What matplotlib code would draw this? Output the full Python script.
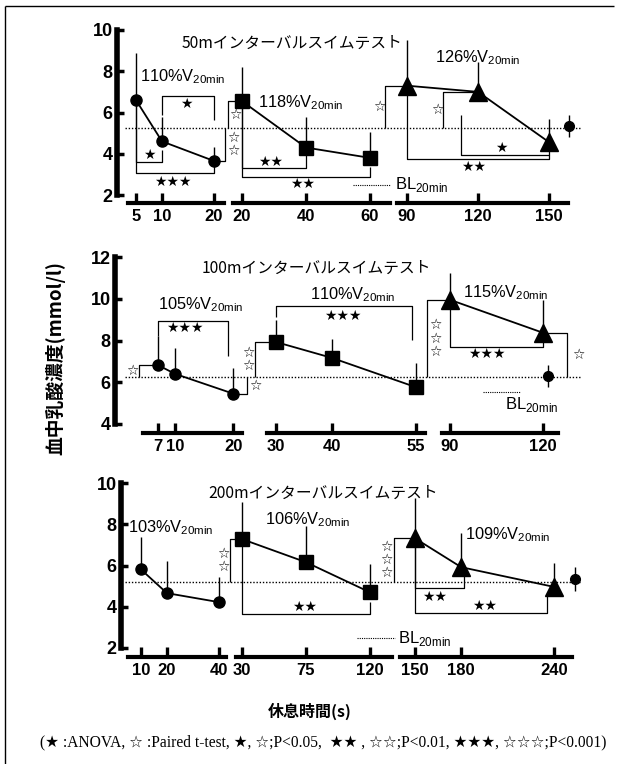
import matplotlib
matplotlib.use('Agg')
import matplotlib.pyplot as plt
from matplotlib.lines import Line2D
from matplotlib.transforms import offset_copy, blended_transform_factory

plt.rcParams['font.family'] = ['Liberation Sans', 'Noto Sans CJK JP', 'DejaVu Sans']
plt.rcParams['mathtext.fontset'] = 'custom'
plt.rcParams['mathtext.rm'] = 'Liberation Sans'
plt.rcParams['lines.solid_capstyle'] = 'butt'

W, H = 617, 764

# rest interval (s), blood lactate mean and top of the SD bar, per group of repeats
rest_50 = [[5, 10, 20], [20, 40, 60], [90, 120, 150]]
lac_50 = [[6.6, 4.6, 3.65], [6.55, 4.3, 3.8], [7.3, 7.0, 4.56]]
sdtop_50 = [[8.9, 5.8, 4.35], [8.2, 5.8, 5.05], [9.5, 8.45, 5.7]]
speed_50 = ['110', '118', '126']
bl_50 = 5.24
blpt_50 = (5.35, 0.55)

rest_100 = [[7, 10, 20], [30, 40, 55], [90, 120]]
lac_100 = [[6.83, 6.4, 5.45], [7.93, 7.17, 5.77], [9.95, 8.37]]
sdtop_100 = [[8.2, 7.65, 6.7], [8.98, 8.08, 6.9], [11.25, 9.95]]
speed_100 = ['105', '110', '115']
bl_100 = 6.23
blpt_100 = (6.3, 0.55)

rest_200 = [[10, 20, 40], [30, 75, 120], [150, 180, 240]]
lac_200 = [[5.82, 4.66, 4.22], [7.28, 6.16, 4.7], [7.33, 5.92, 4.96]]
sdtop_200 = [[7.38, 6.2, 5.45], [9.1, 7.9, 6.07], [9.27, 7.6, 6.1]]
speed_200 = ['103', '106', '109']
bl_200 = 5.2
blpt_200 = (5.33, 0.58)

# ANOVA brackets: group, x1, x2, bar y, left end y, right end y, stars, star x, star y
anova_50 = [(0, 10, 20, 6.8, 5.9, 5.64, 1, 14.6, 6.42),
            (0, 5, 10, 3.6, 6.6, 4.18, 1, 7.5, 3.94),
            (0, 5, 20, 3.07, 6.6, 3.65, 3, 12.1, 2.63),
            (1, 20, 40, 3.31, 6.55, 4.0, 2, 29, 3.6),
            (1, 20, 60, 2.87, 6.55, 3.36, 2, 39, 2.53),
            (2, 113, 150, 3.93, 5.88, 4.8, 1, 129.7, 4.27),
            (2, 90, 150, 3.74, 6.85, 3.93, 2, 118, 3.36)]
anova_100 = [(0, 7, 19.07, 8.95, 8.2, 7.26, 3, 11.7, 8.6),
             (1, 30, 54.4, 9.65, 9.13, 8.02, 3, 42, 9.17),
             (2, 90, 120, 7.69, 9.95, 8.37, 3, 102, 7.35)]
anova_200 = [(1, 30, 120, 3.65, 7.28, 4.23, 2, 74.3, 4.0),
             (2, 150, 181.8, 4.9, 7.33, 5.54, 2, 163, 4.47),
             (2, 150, 235.4, 3.7, 7.33, 4.57, 2, 195, 4.04)]

# paired t-test vs BL: group, point index, line offset (px), stars, star offset (px)
paired_50 = [(0, 2, 11, 2, 8), (1, 0, -14, 1, 7), (2, 0, -22, 1, -6), (2, 1, -35, 1, -6)]
paired_100 = [(0, 0, -19, 1, -6), (0, 2, 14, 1, 8), (1, 0, -21, 2, -6),
              (2, 0, -23, 3, 8), (2, 1, 24, 1, 11)]
paired_200 = [(1, 0, -12, 2, -7), (2, 0, -21, 3, -7)]

# layout of the three panels, in pixels of the 617x764 picture
layout = [
    dict(top=30, bottom=195, spine=117, out=8, ylim=(2, 10), yticks=[2, 4, 6, 8, 10],
         groups=[(128, 224, (3.46, 21.92)), (233, 390, (17.19, 66.25)), (397, 568, (85.76, 158.0))],
         title='50mインターバルスイムテスト', title_xy=(182, 43),
         bl_leg=(353, 390, 185, 395, 185), labels=[(5.8, 7.72), (25, 6.5), (102, 8.64)], bl_x=1.006),
    dict(top=257, bottom=424, spine=115, out=9, ylim=(4, 12), yticks=[4, 6, 8, 10, 12],
         groups=[(143, 242, (4.49, 21.47)), (267, 425, (28.43, 56.69)), (442, 558, (87.42, 124.84))],
         title='100mインターバルスイムテスト', title_xy=(202, 268),
         bl_leg=(483, 520, 392, 505, 405), labels=[(7.07, 9.7), (36.1, 10.18), (94.2, 10.27)], bl_x=0.914),
    dict(top=483, bottom=648, spine=121, out=9, ylim=(2, 10), yticks=[2, 4, 6, 8, 10],
         groups=[(128, 226, (5.15, 42.54)), (236, 392, (25.81, 135.51)), (400, 572, (140.59, 251.42))],
         title='200mインターバルスイムテスト', title_xy=(208, 493),
         bl_leg=(357, 395, 638, 398, 638), labels=[(5.15, 7.82), (46.2, 8.2), (182.5, 7.48)], bl_x=1.017),
]

markers = [('o', 8), ('s', 10.5), ('^', 13)]
STAR = ['DejaVu Sans']

fig = plt.figure(figsize=(W / 100, H / 100), dpi=100)


def px_axes(l, t, r, b):
    return fig.add_axes([l / W, 1 - b / H, (r - l) / W, (b - t) / H])


def shift_x(ax, x, y, dpx):
    X, Y = ax.transData.transform((x, y))
    return ax.transData.inverted().transform((X + dpx, Y))[0]


def draw_panel(cfg, rest, lac, sdtop, speed, bl, blpt, anova, paired):
    ax0 = px_axes(cfg['spine'], cfg['top'], 590, cfg['bottom'])
    ax0.set_xlim(cfg['spine'], 590)
    ax0.set_ylim(*cfg['ylim'])
    ax0.patch.set_visible(False)
    for s in ['top', 'right', 'bottom']:
        ax0.spines[s].set_visible(False)
    ax0.spines['left'].set_linewidth(4)
    ax0.set_xticks([])
    ax0.set_yticks(cfg['yticks'])
    ax0.tick_params(axis='y', direction='in', length=5, width=2.5, pad=3, labelsize=13)
    for lab in ax0.get_yticklabels():
        lab.set_fontweight('bold')
    ax0.hlines(bl, 125, 580, colors='k', lw=1, linestyles=(0, (1, 1.3)))

    axes = []
    for g, (l, r, xl) in enumerate(cfg['groups']):
        ax = px_axes(l, cfg['top'], r, cfg['bottom'])
        ax.set_xlim(*xl)
        ax.set_ylim(*cfg['ylim'])
        ax.patch.set_visible(False)
        for s in ['top', 'right', 'left']:
            ax.spines[s].set_visible(False)
        ax.spines['bottom'].set_linewidth(3)
        ax.spines['bottom'].set_position(('outward', cfg['out'] * 0.72))
        ax.set_yticks([])
        ax.set_xticks(rest[g])
        ax.tick_params(axis='x', direction='in', length=7, width=2.4, pad=4, labelsize=12)
        for lab in ax.get_xticklabels():
            lab.set_fontweight('bold')
        mk, ms = markers[g]
        ax.vlines(rest[g], lac[g], sdtop[g], colors='k', lw=1, zorder=2, clip_on=False)
        ax.plot(rest[g], lac[g], '-', color='k', lw=1.3, marker=mk, ms=ms, zorder=3, clip_on=False)
        lx, ly = cfg['labels'][g]
        ax.text(lx, ly, speed[g] + r'%V$_{\mathrm{20min}}$', fontsize=11.8, va='center', ha='left')
        axes.append(ax)

    # baseline value
    ax3 = axes[-1]
    tr = blended_transform_factory(ax3.transAxes, ax3.transData)
    m, e = blpt
    ax3.plot([cfg['bl_x']], [m], 'o', color='k', ms=7, transform=tr, clip_on=False)
    ax3.vlines(cfg['bl_x'], m - e, m + e, colors='k', lw=1, transform=tr, clip_on=False)

    for g, x1, x2, yb, y1, y2, n, sx, sy in anova:
        ax = axes[g]
        ax.plot([x1, x1, x2, x2], [y1, yb, yb, y2], color='k', lw=0.9, zorder=1, clip_on=False)
        ax.text(sx, sy, '★' * n, ha='center', va='center', fontsize=10, family=STAR)

    for g, i, dx, n, sdx in paired:
        ax = axes[g]
        x, y = rest[g][i], lac[g][i]
        xv = shift_x(ax, x, y, dx)
        ax.plot([x, xv, xv], [y, y, bl], color='k', lw=0.9, zorder=1, clip_on=False)
        tr = offset_copy(ax.transData, fig=fig, x=dx + sdx, y=0, units='dots')
        ax.text(x, (y + bl) / 2, '\n'.join(['☆'] * n), transform=tr, ha='center', va='center',
                fontsize=10, linespacing=0.95, family=STAR)

    tx, ty = cfg['title_xy']
    fig.text(tx / W, 1 - ty / H, cfg['title'], fontsize=11.3, va='center', ha='left',
             family=['Noto Sans CJK JP', 'DejaVu Sans'])
    x0, x1, yl, xt, yt = cfg['bl_leg']
    fig.add_artist(Line2D([x0 / W, x1 / W], [1 - yl / H] * 2, color='k', lw=0.8,
                          linestyle=(0, (1, 1))))
    fig.text(xt / W, 1 - yt / H, r'BL$_{\mathrm{20min}}$', fontsize=12, va='center', ha='left')


draw_panel(layout[0], rest_50, lac_50, sdtop_50, speed_50, bl_50, blpt_50, anova_50, paired_50)
draw_panel(layout[1], rest_100, lac_100, sdtop_100, speed_100, bl_100, blpt_100, anova_100, paired_100)
draw_panel(layout[2], rest_200, lac_200, sdtop_200, speed_200, bl_200, blpt_200, anova_200, paired_200)

fig.text(55 / W, 1 - 358 / H, '血中乳酸濃度(mmol/l)', rotation=90, fontsize=13.5, fontweight='bold',
         ha='center', va='center', family=['Noto Sans CJK JP', 'DejaVu Sans'])
fig.text(310 / W, 1 - 711 / H, '休息時間(s)', fontsize=11.5, fontweight='bold',
         ha='center', va='center', family=['Noto Sans CJK JP', 'DejaVu Sans'])
fig.text(40 / W, 1 - 742 / H,
         '(★ :ANOVA, ☆ :Paired t-test, ★, ☆;P<0.05,  ★★ , ☆☆;P<0.01, ★★★, ☆☆☆;P<0.001)',
         fontsize=11.2, ha='left', va='center', family=['Liberation Serif', 'DejaVu Sans'])

# frame of the scanned figure
fig.add_artist(Line2D([5 / W, 5 / W], [0, 1 - 6 / H], color='k', lw=1))
fig.add_artist(Line2D([5 / W, 614 / W], [1 - 6 / H] * 2, color='k', lw=1))

fig.savefig('out.png', dpi=100)
